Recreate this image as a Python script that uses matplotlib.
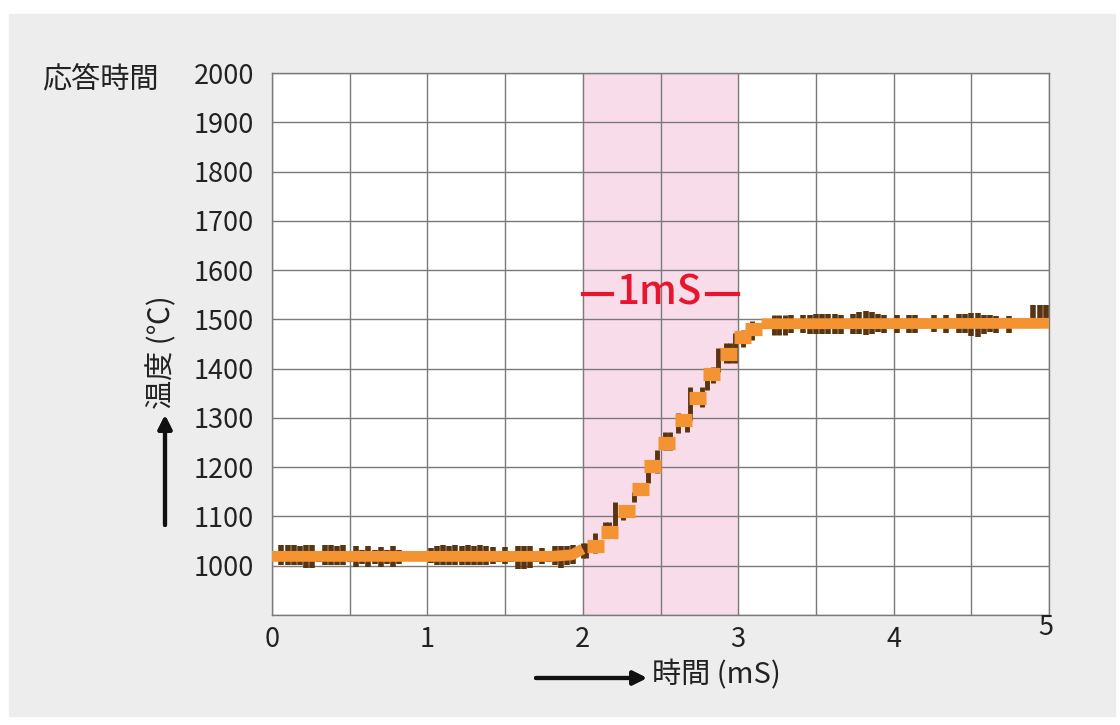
import matplotlib
matplotlib.use("Agg")
import matplotlib.pyplot as plt
from matplotlib.patches import Rectangle
import numpy as np

plt.rcParams['font.family'] = ['Noto Sans CJK JP', 'DejaVu Sans']

# brown raw signal, flat part before the step (vertical bars lo..hi)
left_t = np.linspace(0.06, 1.94, 48)
left_hi = [1042, 1043, 1042, 1041, 1042, 1042, 1030, 1042, 1042, 1041, 1042, 1030,
           1040, 1032, 1040, 1032, 1039, 1032, 1040, 1032, 1019, 1019, 1019, 1019, 1036,
           1041, 1042, 1041, 1042, 1041, 1042, 1041, 1042, 1041,
           1038, 1030, 1038, 1030, 1040, 1040, 1040, 1030, 1036, 1030,
           1041, 1041, 1041, 1043]
left_lo = [1002, 1002, 1001, 1002, 995, 995, 1008, 1002, 1001, 1002, 1002, 1008,
           998, 1004, 998, 1004, 998, 1004, 998, 1004, 1019, 1019, 1019, 1019, 1006,
           1002, 1001, 1002, 1002, 1001, 1002, 1002, 1001, 1002,
           1004, 1008, 1004, 1008, 994, 994, 996, 1008, 1004, 1008,
           1001, 996, 1001, 1003]

# brown raw signal during the rise
rise_t = [2.00, 2.02, 2.08, 2.14, 2.17, 2.21, 2.26, 2.33, 2.42, 2.48, 2.53, 2.56,
          2.61, 2.67, 2.69, 2.77, 2.80, 2.84, 2.87, 2.92, 2.95, 2.98, 3.03, 3.09,
          3.23, 3.26, 3.30]
rise_hi = [1047, 1047, 1067, 1089, 1089, 1130, 1108, 1150, 1200, 1235, 1272, 1272,
           1310, 1296, 1363, 1363, 1377, 1404, 1442, 1452, 1452, 1472, 1478, 1497,
           1509, 1509, 1509]
rise_lo = [1015, 1015, 1026, 1057, 1057, 1079, 1093, 1130, 1168, 1189, 1235, 1235,
           1270, 1272, 1296, 1323, 1357, 1371, 1393, 1411, 1411, 1411, 1444, 1458,
           1469, 1469, 1469]

# brown raw signal, flat part after the step
right_t = np.linspace(3.34, 4.98, 42)
right_hi = [1509, 1500, 1509, 1509, 1510, 1510, 1510, 1510, 1509, 1500,
            1511, 1514, 1516, 1514, 1510, 1509, 1500, 1509, 1500, 1508,
            1508, 1492, 1500, 1508, 1500, 1509, 1500, 1510, 1510, 1512,
            1512, 1509, 1508, 1507, 1500, 1507, 1492, 1492, 1492, 1530,
            1530, 1530]
right_lo = [1472, 1484, 1472, 1471, 1470, 1470, 1470, 1470, 1471, 1484,
            1471, 1471, 1469, 1471, 1474, 1472, 1484, 1472, 1484, 1473,
            1473, 1492, 1484, 1474, 1484, 1472, 1484, 1472, 1472, 1467,
            1465, 1471, 1474, 1472, 1484, 1472, 1492, 1492, 1492, 1485,
            1485, 1485]

# orange smoothed response
fit_left_t = [0.0, 1.8, 1.93, 2.0]
fit_left_v = [1019, 1019, 1022, 1034]
step_t = [2.08, 2.17, 2.28, 2.37, 2.45, 2.54, 2.65, 2.74, 2.83, 2.94, 3.03, 3.10]
step_v = [1040, 1069, 1112, 1156, 1203, 1249, 1295, 1341, 1389, 1429, 1465, 1480]
fit_right_t = [3.15, 5.0]
fit_right_v = [1491, 1492]

brown = '#583411'
orange = '#f39331'
red = '#e5162e'
grid = '#7a7a7a'
ink = '#222222'

fig = plt.figure(figsize=(11.2, 7.25), dpi=100)
fig.patches.append(Rectangle((9 / 1120, 1 - 716 / 725), 1106 / 1120, 702 / 725,
                             transform=fig.transFigure, color='#ededed', zorder=-10))
ax = fig.add_axes([272 / 1120, 1 - 615 / 725, 777 / 1120, 542 / 725])
ax.set_facecolor('white')
ax.set_xlim(0, 5)
ax.set_ylim(900, 2000)

ax.axvspan(2, 3, color='#f9dcea', zorder=0)
ax.set_xticks(np.arange(0, 5.01, 0.5))
ax.set_yticks(np.arange(900, 2001, 100))
ax.grid(True, color=grid, linewidth=1.0, zorder=1)
ax.set_axisbelow(True)
for s in ax.spines.values():
    s.set_color(grid)
    s.set_linewidth(1.0)

ax.set_xticklabels(['0', '', '1', '', '2', '', '3', '', '4', '', ''])
ax.set_yticklabels([''] + [str(v) for v in range(1000, 2001, 100)])
ax.tick_params(length=0, labelsize=19.5, colors=ink)
ax.tick_params(axis='x', pad=8)
ax.tick_params(axis='y', pad=13)
ax.text(5.03, 902, '5', ha='right', va='top', fontsize=19.5, color=ink)

ax.vlines(left_t, left_lo, left_hi, color=brown, linewidth=4.0, zorder=3)
ax.vlines(rise_t, rise_lo, rise_hi, color=brown, linewidth=3.5, zorder=3)
ax.vlines(right_t, right_lo, right_hi, color=brown, linewidth=4.0, zorder=3)

ax.plot(fit_left_t, fit_left_v, color=orange, linewidth=7.8, solid_capstyle='butt', zorder=4)
ax.plot(fit_right_t, fit_right_v, color=orange, linewidth=7.8, solid_capstyle='butt', zorder=4)
ax.hlines(step_v, np.array(step_t) - 0.055, np.array(step_t) + 0.055, color=orange,
          linewidth=9.5, zorder=4)

# 1mS marker
ax.plot([2.0, 2.19], [1552, 1552], color=red, linewidth=3.0, zorder=5)
ax.plot([2.8, 3.0], [1552, 1552], color=red, linewidth=3.0, zorder=5)
ax.text(2.495, 1553, '1mS', color=red, fontsize=29, fontweight='medium',
        ha='center', va='center', zorder=5)

fig.text(42 / 1120, 1 - 80 / 725, '応答時間', fontsize=21, ha='left', va='center', color=ink)
fig.text(162 / 1120, 1 - 352 / 725, '温度 (℃)', fontsize=21, rotation=90,
         ha='center', va='center', color=ink)
fig.text(652 / 1120, 1 - 675 / 725, '時間 (mS)', fontsize=21, ha='left', va='center', color=ink)

arrow = dict(arrowstyle='-|>', color='#111111', lw=3, mutation_scale=20, shrinkA=0, shrinkB=0)
fig.add_artist(plt.annotate('', xy=(165 / 1120, 1 - 415 / 725), xytext=(165 / 1120, 1 - 525 / 725),
                            xycoords='figure fraction', arrowprops=arrow))
fig.add_artist(plt.annotate('', xy=(647 / 1120, 1 - 678 / 725), xytext=(536 / 1120, 1 - 678 / 725),
                            xycoords='figure fraction', arrowprops=arrow))

fig.savefig('out.png', dpi=100, facecolor='white')
